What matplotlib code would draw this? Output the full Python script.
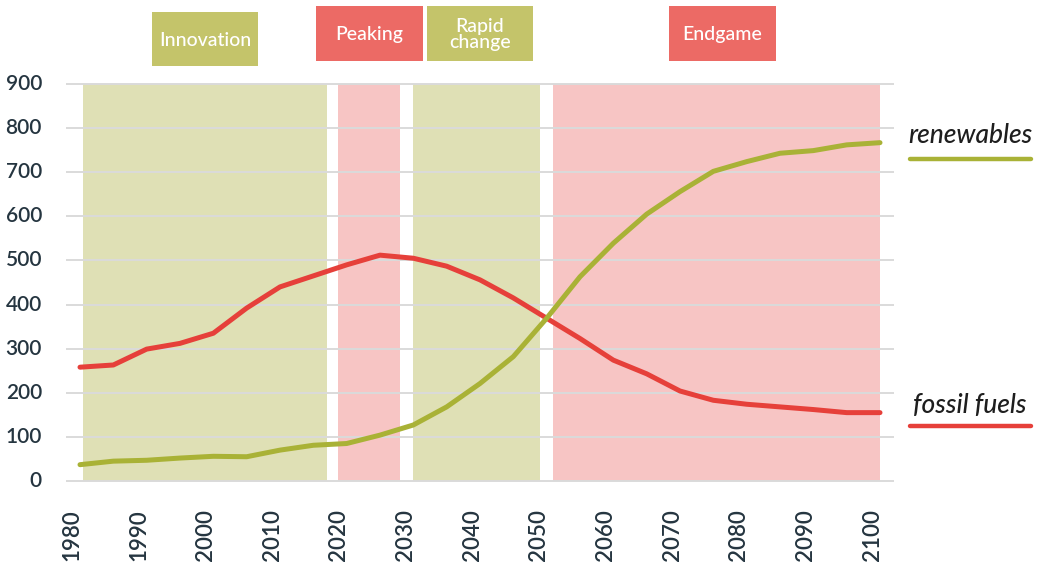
import matplotlib
matplotlib.use('Agg')
import matplotlib.pyplot as plt
from matplotlib.patches import Rectangle
from matplotlib.lines import Line2D
from matplotlib.transforms import ScaledTranslation

# ---- data ----
years = list(range(1980, 2101, 5))
fossil = [258, 263, 299, 312, 335, 392, 440, 465, 490, 512, 505, 487, 456,
          415, 369, 323, 274, 243, 204, 183, 174, 168, 162, 155, 155]
renew = [37, 45, 47, 52, 56, 55, 70, 81, 85, 104, 127, 168, 221,
         282, 369, 463, 539, 605, 656, 702, 724, 743, 749, 762, 767]
phase_names = ['Innovation', 'Peaking', 'Rapid\nchange', 'Endgame']
phase_start = [1980.5, 2018.7, 2030.0, 2051.0]
phase_end = [2017.0, 2028.0, 2049.0, 2100.0]
phase_kind = ['g', 'r', 'g', 'r']
ytick_vals = list(range(0, 901, 100))
xtick_vals = list(range(1980, 2101, 10))
series_labels = ['renewables', 'fossil fuels']

# ---- style ----
band_col = {'g': '#dfe0b5', 'r': '#f7c5c4'}
box_col = {'g': '#c4c46a', 'r': '#ec6a65'}
green_line = '#a9b236'
red_line = '#e6403a'
tick_col = '#253540'

plt.rcParams['font.family'] = ['Lato', 'DejaVu Sans']
W, H = 1037, 562
fig = plt.figure(figsize=(W / 100, H / 100), dpi=100)

def fx(px):
    return px / W

def fy(py):
    return 1 - py / H

ax = fig.add_axes([fx(67), fy(481), (893 - 67) / W, (481 - 84) / H])
ax.set_xlim(1978.05, 2101.95)
ax.set_ylim(0, 900)

for s, e, k in zip(phase_start, phase_end, phase_kind):
    ax.axvspan(s, e, color=band_col[k], lw=0, zorder=0)
for v in ytick_vals:
    ax.axhline(v, color='#dadada', lw=1.4, zorder=1, clip_on=False)

ax.plot(years, fossil, color=red_line, lw=3.6, zorder=3, solid_capstyle='round', solid_joinstyle='round')
ax.plot(years, renew, color=green_line, lw=3.6, zorder=3, solid_capstyle='round', solid_joinstyle='round')

for sp in ax.spines.values():
    sp.set_visible(False)

ax.set_yticks(ytick_vals)
ax.set_xticks(xtick_vals)
ax.set_xticklabels([str(x) for x in xtick_vals], rotation=90, ha='center', va='top')
ax.tick_params(axis='y', length=0, labelsize=15, colors=tick_col, pad=18)
ax.tick_params(axis='x', length=0, labelsize=16, colors=tick_col, pad=20)
off = ScaledTranslation(-8 / 100, 0, fig.dpi_scale_trans)
for lab in ax.get_xticklabels():
    lab.set_transform(lab.get_transform() + off)
    lab.set_fontweight('semibold')
offy = ScaledTranslation(0, 2 / 100, fig.dpi_scale_trans)
for lab in ax.get_yticklabels():
    lab.set_transform(lab.get_transform() + offy)
    lab.set_fontweight('semibold')

# ---- phase boxes ----
boxes = [(152, 12, 258, 66), (316, 6, 423, 61), (427, 6, 533, 61), (669, 6, 776, 61)]
for (x0, y0, x1, y1), name, k in zip(boxes, phase_names, phase_kind):
    fig.patches.append(Rectangle((fx(x0), fy(y1)), (x1 - x0) / W, (y1 - y0) / H,
                                 transform=fig.transFigure, color=box_col[k], lw=0))
    fig.text(fx((x0 + x1) / 2), fy((y0 + y1) / 2 + 1), name, color='white', fontsize=14,
             ha='center', va='center', linespacing=0.95, fontweight='medium')

# ---- right labels ----
label_pos = [(135, 159, green_line), (405, 426, red_line)]
for name, (ty, ly, c) in zip(series_labels, label_pos):
    fig.text(fx(970), fy(ty), name, fontsize=19, style='italic', color='#1e1e1e',
             ha='center', va='center', fontweight='medium')
    fig.add_artist(Line2D([fx(910), fx(1031)], [fy(ly), fy(ly)], color=c, lw=3.2,
                          solid_capstyle='round', transform=fig.transFigure))

fig.savefig('out.png', dpi=100)
